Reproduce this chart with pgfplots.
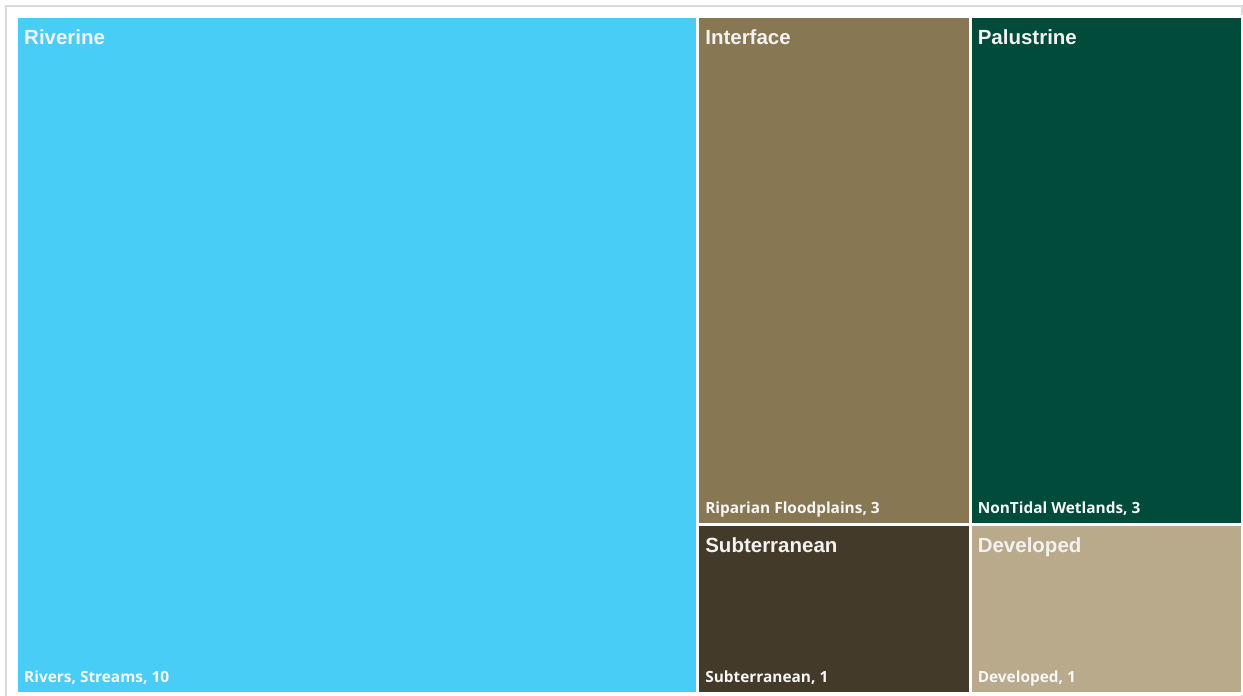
\documentclass[border=0pt]{standalone}
\usepackage{pgfplots}
\pgfplotsset{compat=1.18}
\usepackage{fontspec}
\setmainfont{Liberation Sans}
\newfontfamily\lab{Open Sans}
\definecolor{cRiv}{HTML}{48CDF7}
\definecolor{cInt}{HTML}{877753}
\definecolor{cPal}{HTML}{004B3A}
\definecolor{cSub}{HTML}{443A29}
\definecolor{cDev}{HTML}{B8AA8A}
\definecolor{frame}{HTML}{DADADA}
\begin{document}
\begin{tikzpicture}[x=1pt,y=1pt]
\fill[white] (0,0) rectangle (1243,696);
\draw[frame, line width=1.2pt] (6,-5) -- (6,690) -- (1242,690) -- (1242,-5);
\begin{axis}[
  at={(16.5pt,2.5pt)}, anchor=south west,
  width=1226pt, height=677pt, scale only axis,
  xmin=0, xmax=18, ymin=0, ymax=4,
  hide axis, clip=false,
]
\addplot[fill=cRiv, draw=white, line width=3pt] coordinates {(0,0) (10,0) (10,4) (0,4)} -- cycle;
\addplot[fill=cInt, draw=white, line width=3pt] coordinates {(10,1) (14,1) (14,4) (10,4)} -- cycle;
\addplot[fill=cPal, draw=white, line width=3pt] coordinates {(14,1) (18,1) (18,4) (14,4)} -- cycle;
\addplot[fill=cSub, draw=white, line width=3pt] coordinates {(10,0) (14,0) (14,1) (10,1)} -- cycle;
\addplot[fill=cDev, draw=white, line width=3pt] coordinates {(14,0) (18,0) (18,1) (14,1)} -- cycle;
\tikzset{hdr/.style={anchor=north west, inner sep=0pt, text=white!95!black, font=\fontsize{20.5}{23}\selectfont\bfseries, xshift=7.5pt, yshift=-13pt},
         lb/.style={anchor=base west, inner sep=0pt, text=white!97!black, font=\lab\fontsize{15.4}{17}\selectfont\bfseries, xshift=7.5pt, yshift=11pt}}
\node[hdr] at (axis cs:0,4) {Riverine};
\node[hdr] at (axis cs:10,4) {Interface};
\node[hdr] at (axis cs:14,4) {Palustrine};
\node[hdr] at (axis cs:10,1) {Subterranean};
\node[hdr] at (axis cs:14,1) {Developed};
\node[lb] at (axis cs:0,0) {Rivers, Streams, 10};
\node[lb] at (axis cs:10,1) {Riparian Floodplains, 3};
\node[lb] at (axis cs:14,1) {NonTidal Wetlands, 3};
\node[lb] at (axis cs:10,0) {Subterranean, 1};
\node[lb] at (axis cs:14,0) {Developed, 1};
\end{axis}
\pgfresetboundingbox
\useasboundingbox (0,0) rectangle (1243,696);
\end{tikzpicture}
\end{document}
